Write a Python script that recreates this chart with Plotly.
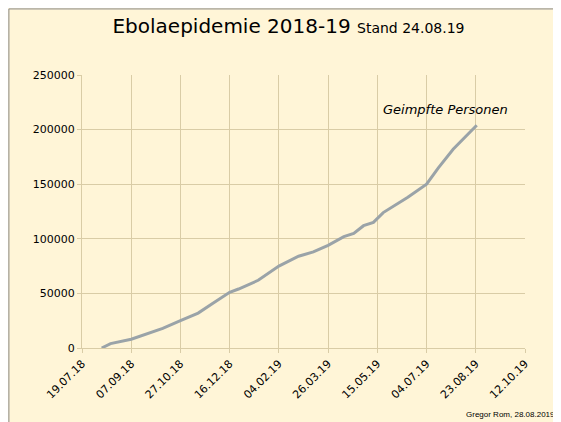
import plotly.graph_objects as go
import pandas as pd

dates = ["2018-08-08", "2018-08-17", "2018-09-07", "2018-09-24", "2018-10-09", "2018-10-27",
         "2018-11-14", "2018-11-29", "2018-12-16", "2018-12-25", "2019-01-14", "2019-02-04",
         "2019-02-24", "2019-03-11", "2019-03-26", "2019-04-11", "2019-04-21", "2019-05-01",
         "2019-05-11", "2019-05-21", "2019-06-05", "2019-06-15", "2019-07-04", "2019-07-16",
         "2019-07-31", "2019-08-24"]
vaccinated = [0, 4000, 8000, 13000, 18000, 25000,
              32000, 41000, 51000, 54000, 62000, 75000,
              84000, 88000, 94000, 102000, 105000, 112000,
              115000, 124000, 132000, 138000, 150000, 165000,
              182000, 204000]
tick_dates = ["2018-07-19", "2018-09-07", "2018-10-27", "2018-12-16", "2019-02-04",
              "2019-03-26", "2019-05-15", "2019-07-04", "2019-08-23", "2019-10-12"]
tick_labels = [pd.Timestamp(d).strftime("%d.%m.%y") for d in tick_dates]

bg = "#fff5d7"
grid = "#d9cca6"

fig = go.Figure()
fig.add_trace(go.Scatter(x=dates, y=vaccinated, mode="lines",
                         line=dict(color="#9aa3a8", width=3), showlegend=False))

fig.update_layout(
    width=561, height=422,
    paper_bgcolor=bg, plot_bgcolor=bg,
    margin=dict(l=74, r=44, t=67, b=82, autoexpand=False),
    font=dict(family="DejaVu Sans", size=11, color="black"),
    title=dict(text="Ebolaepidemie 2018-19 <span style='font-size:14px'>Stand 24.08.19</span>",
               x=0.5, xanchor="center", y=0.975, yanchor="top", font=dict(size=20)),
    xaxis=dict(type="date", range=["2018-07-19", "2019-10-12"], tickvals=tick_dates,
               ticktext=tick_labels, tickangle=-45, showgrid=True, gridcolor=grid,
               linecolor=grid, showline=True, ticks="outside", tickcolor=grid, ticklen=4,
               zeroline=False, automargin=False),
    yaxis=dict(range=[0, 250000], dtick=50000, showgrid=True, gridcolor=grid,
               linecolor=grid, showline=True, zeroline=False, ticks="outside",
               tickcolor=grid, ticklen=4, tickformat="d", automargin=False),
    annotations=[
        dict(text="<i>Geimpfte Personen</i>", x="2019-07-23", y=218000, xref="x", yref="y",
             showarrow=False, font=dict(size=13), xanchor="center"),
        dict(text="Gregor Rom, 28.08.2019", x=1.072, y=-0.245, xref="paper", yref="paper",
             xanchor="right", yanchor="middle", showarrow=False,
             font=dict(size=8, family="Liberation Sans Narrow, Liberation Sans")),
    ],
    shapes=[dict(type="rect", xref="paper", yref="paper", x0=-0.165, x1=1.097,
                 y0=-0.297, y1=1.242, line=dict(color="#888", width=1))],
)

fig.write_html("out.html")
